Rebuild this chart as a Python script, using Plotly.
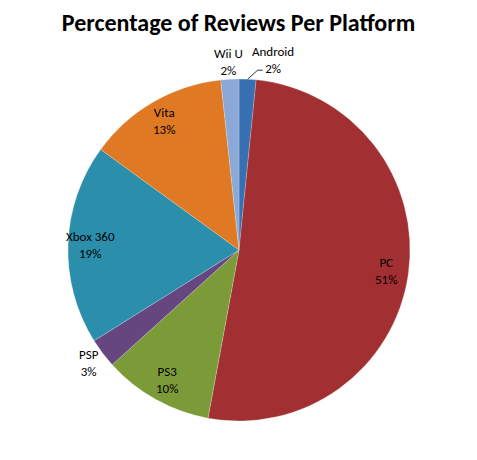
import math
import plotly.graph_objects as go

# platform shares, clockwise from 12 o'clock
platforms = ["Android", "PC", "PS3", "PSP", "Xbox 360", "Vita", "Wii U"]
shares = [1.6, 51.3, 10.4, 2.8, 18.9, 13.3, 1.7]
colors = ["#3670B3", "#A22F31", "#7A9B38", "#66467F", "#2B8EAB", "#DF7923", "#8CA8D6"]

W, H = 477, 460
OFF = 8  # page body margin pushes the figure down/right
cx, cy, R = 239 - OFF, 250 - OFF, 171

fig = go.Figure(go.Pie(
    labels=platforms, values=shares, sort=False, direction="clockwise", rotation=0,
    marker=dict(colors=colors, line=dict(color="rgba(255,255,255,0.35)", width=0.6)),
    textinfo="none", hoverinfo="label+percent", showlegend=False,
    domain=dict(x=[(cx - R) / W, (cx + R) / W], y=[1 - (cy + R) / H, 1 - (cy - R) / H]),
))

# data labels, placed Excel-style at the slice mid-angle
total = sum(shares)
outside = {"Android", "Wii U", "PSP"}
acc = 0
for name, v in zip(platforms, shares):
    mid = (acc + v / 2) / total * 2 * math.pi
    acc += v
    txt = f"{name}<br>{round(v / total * 100)}%"
    r = 1.1 if name in outside else 0.87
    px = cx + r * R * math.sin(mid)
    py = cy - r * R * math.cos(mid)
    if name == "Android":
        # label pushed right, leader line back to the rim
        ex = cx + R * math.sin(mid)
        ey = cy - R * math.cos(mid)
        pts = [(ex, ey), (ex + 10, ey - 9), (ex + 15, ey - 9)]
        path = "M " + " L ".join(f"{x / W:.5f},{1 - y / H:.5f}" for x, y in pts)
        fig.add_shape(type="path", path=path, xref="paper", yref="paper",
                      line=dict(color="#000", width=0.8))
        px, py = ex + 25, ey - 19
    fig.add_annotation(x=px / W, y=1 - py / H, xref="paper", yref="paper", text=txt,
                       xanchor="center", yanchor="middle",
                       showarrow=False, font=dict(size=13))

fig.update_layout(
    width=W, height=H, margin=dict(l=0, r=0, t=0, b=0),
    paper_bgcolor="white", plot_bgcolor="white",
    font=dict(family="Carlito, Lato, sans-serif", color="#000"),
    title=dict(text="<b>Percentage of Reviews Per Platform</b>", x=(238.5 - OFF) / W,
               xanchor="center", y=1 - (23 - OFF) / H, yanchor="middle", yref="container",
               font=dict(size=24, family="Carlito, Lato, sans-serif", color="#000")),
)

fig.write_html("out.html")
